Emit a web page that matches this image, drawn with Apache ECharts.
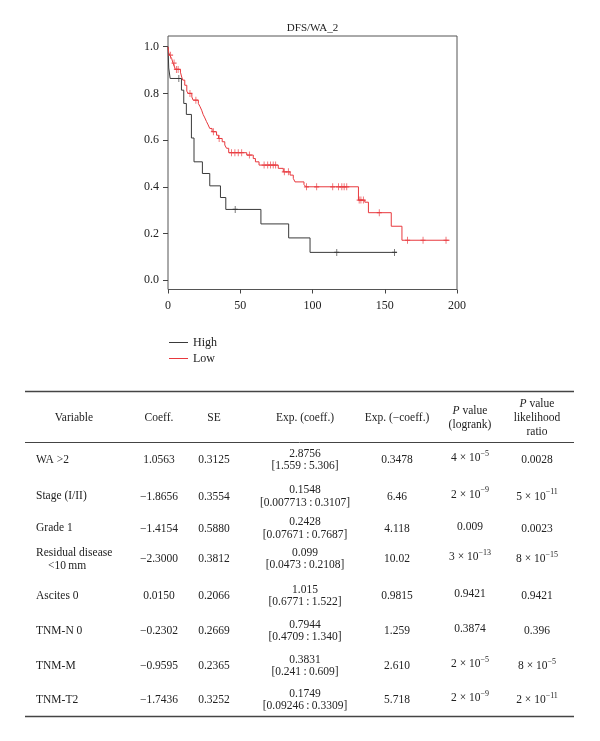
<!DOCTYPE html>
<html><head><meta charset="utf-8">
<script src="https://cdn.jsdelivr.net/npm/echarts@6/dist/echarts.min.js"></script>
<style>html,body{margin:0;padding:0;background:#fff}#c{width:600px;height:741px}</style>
</head><body><div id="c"></div>
<script>
// ---------------- data ----------------
const chartTitle = 'DFS/WA_2';
const seriesNames = ['High', 'Low'];
const xTickStep = 50;
const yTickValues = [0, 0.2, 0.4, 0.6, 0.8, 1.0];

// Kaplan-Meier steps: time of change and survival from that time on
const highTimes = [0, 0.5, 1.5, 9.3, 10.9, 12.7, 16.2, 18.0, 23.8, 28.9, 36.3, 40.0, 64.3, 83.5, 98.3, 158.4];
const highSurv  = [1.0, 0.909, 0.864, 0.814, 0.757, 0.710, 0.609, 0.507, 0.457, 0.404, 0.354, 0.303, 0.241, 0.181, 0.119, 0.119];
const highCensor = [7.5, 46.5, 116.8, 156.8];

const lowTimes = [0, 0.5, 1.2, 2.5, 3.5, 4.5, 5.0, 8.6, 9.5, 10.2, 11.6, 13.0, 13.9, 16.5, 17.4, 21.0, 22.2, 23.3, 24.3, 25.5, 26.6, 27.8, 28.9, 30.5, 33.6, 35.0, 37.5, 39.3, 40.5, 42.0, 54.5, 59.0, 60.5, 63.0, 76.3, 79.8, 84.5, 86.7, 87.9, 94.1, 95.4, 131.8, 136.2, 138.7, 154.5, 161.9, 194.8];
const lowSurv  = [1.0, 0.975, 0.964, 0.95, 0.93, 0.914, 0.903, 0.891, 0.870, 0.857, 0.835, 0.81, 0.80, 0.785, 0.771, 0.757, 0.743, 0.728, 0.71, 0.695, 0.68, 0.665, 0.65, 0.636, 0.621, 0.607, 0.593, 0.579, 0.565, 0.546, 0.536, 0.521, 0.507, 0.493, 0.479, 0.464, 0.45, 0.436, 0.421, 0.41, 0.40, 0.343, 0.334, 0.289, 0.231, 0.171, 0.171];
const lowCensor = [1.8, 4.2, 5.8, 7.0, 15.2, 19.3, 31.4, 35.4, 44.0, 46.3, 48.6, 51.0, 56.3, 66.5, 69.0, 71.0, 72.8, 74.5, 80.5, 83.3, 95.8, 102.9, 114.0, 118.0, 120.3, 121.9, 123.7, 132.3, 133.5, 135.2, 146.2, 165.8, 176.5, 192.4];

// table
const tableHeaders = ['Variable', 'Coeff.', 'SE', 'Exp. (coeff.)', 'Exp. (−coeff.)', '{i|P} value\n(logrank)', '{i|P} value\nlikelihood\nratio'];
const variables = ['WA >2', 'Stage (I/II)', 'Grade 1', 'Residual disease\n<10\u2009mm', 'Ascites 0', 'TNM-N 0', 'TNM-M', 'TNM-T2'];
const coeffs = ['1.0563', '−1.8656', '−1.4154', '−2.3000', '0.0150', '−0.2302', '−0.9595', '−1.7436'];
const ses = ['0.3125', '0.3554', '0.5880', '0.3812', '0.2066', '0.2669', '0.2365', '0.3252'];
const expCoeffs = ['2.8756', '0.1548', '0.2428', '0.099', '1.015', '0.7944', '0.3831', '0.1749'];
const expCIs = ['[1.559\u2009:\u20095.306]', '[0.007713\u2009:\u20090.3107]', '[0.07671\u2009:\u20090.7687]', '[0.0473\u2009:\u20090.2108]', '[0.6771\u2009:\u20091.522]', '[0.4709\u2009:\u20091.340]', '[0.241\u2009:\u20090.609]', '[0.09246\u2009:\u20090.3309]'];
const expNegCoeffs = ['0.3478', '6.46', '4.118', '10.02', '0.9815', '1.259', '2.610', '5.718'];
const pLogrank = ['4 × 10^−5', '2 × 10^−9', '0.009', '3 × 10^−13', '0.9421', '0.3874', '2 × 10^−5', '2 × 10^−9'];
const pLikelihood = ['0.0028', '5 × 10^−11', '0.0023', '8 × 10^−15', '0.9421', '0.396', '8 × 10^−5', '2 × 10^−11'];

// ---------------- layout / style ----------------
const FONT = '"Liberation Serif", "DejaVu Serif", serif';
const FS = 11.5;
const TXT = '#222';
const HIGH_COLOR = '#3a3a3a';
const LOW_COLOR = '#e8383d';
const colX = { varLeft: 36, varIndent: 48, varHeader: 74, coeff: 159, se: 214, exp: 305, expNeg: 397, pLog: 470, pLr: 537 };
const headerY = 418;
const rowY = [460, 496.5, 528.5, 559, 596, 631, 666, 700];
const rules = [{ y: 391.5, w: 1.5 }, { y: 442.5, w: 1 }, { y: 716.5, w: 1.5 }];
const ruleX1 = 25, ruleX2 = 574;

function survAt(times, surv, t) {
  let v = surv[0];
  for (let i = 0; i < times.length; i++) { if (times[i] <= t) v = surv[i]; }
  return v;
}

const rich = {
  n: { fontFamily: FONT, fontSize: FS, color: TXT, lineHeight: 14 },
  i: { fontFamily: FONT, fontSize: FS, color: TXT, fontStyle: 'italic', lineHeight: 14 },
  s: { fontFamily: FONT, fontSize: 8, color: TXT, lineHeight: 8, padding: [0, 0, 9, 0] }
};
function toRich(str) {
  if (str.indexOf('^') >= 0) {
    const p = str.split('^');
    return '{n|' + p[0] + '}{s|' + p[1] + '}';
  }
  return '{n|' + str + '}';
}
function textEl(x, y, text, align) {
  return {
    type: 'text', silent: true,
    style: {
      x: x, y: y, text: text, rich: rich,
      font: FS + 'px ' + FONT, fontFamily: FONT, fontSize: FS, fill: TXT,
      align: align, textAlign: align, verticalAlign: 'middle', textVerticalAlign: 'middle'
    }
  };
}

const graphics = [];
// title
graphics.push({ type: 'text', silent: true, style: { x: 312.5, y: 28, text: chartTitle, font: '11px ' + FONT, fontFamily: FONT, fontSize: 11, fill: TXT, align: 'center', textAlign: 'center', verticalAlign: 'middle', textVerticalAlign: 'middle' } });

// table rules
rules.forEach(r => graphics.push({ type: 'line', silent: true, shape: { x1: ruleX1, y1: r.y, x2: ruleX2, y2: r.y }, style: { stroke: '#444', lineWidth: r.w } }));

// headers
const headerCols = [colX.varHeader, colX.coeff, colX.se, colX.exp, colX.expNeg, colX.pLog, colX.pLr];
tableHeaders.forEach((h, k) => {
  const lines = h.split('\n');
  const lh = 14;
  lines.forEach((ln, j) => {
    const y = headerY + (j - (lines.length - 1) / 2) * lh;
    const txt = ln.indexOf('{i|') === 0 ? ln.replace(/^\{i\|P\}(.*)$/, '{i|P}{n|$1}') : '{n|' + ln + '}';
    graphics.push(textEl(headerCols[k], y, txt, 'center'));
  });
});

// rows
variables.forEach((v, r) => {
  const y = rowY[r];
  const vl = v.split('\n');
  if (vl.length === 1) {
    graphics.push(textEl(colX.varLeft, y - 0.5, toRich(vl[0]), 'left'));
  } else {
    graphics.push(textEl(colX.varLeft, y - 6, toRich(vl[0]), 'left'));
    graphics.push(textEl(colX.varIndent, y + 6.5, toRich(vl[1]), 'left'));
  }
  graphics.push(textEl(colX.coeff, y, toRich(coeffs[r]), 'center'));
  graphics.push(textEl(colX.se, y, toRich(ses[r]), 'center'));
  graphics.push(textEl(colX.exp, y - 6.5, toRich(expCoeffs[r]), 'center'));
  graphics.push(textEl(colX.exp, y + 6, toRich(expCIs[r]), 'center'));
  graphics.push(textEl(colX.expNeg, y, toRich(expNegCoeffs[r]), 'center'));
  graphics.push(textEl(colX.pLog, y - 2, toRich(pLogrank[r]), 'center'));
  graphics.push(textEl(colX.pLr, y, toRich(pLikelihood[r]), 'center'));
});

const chart = echarts.init(document.getElementById('c'), null, { renderer: 'canvas' });
chart.setOption({
  backgroundColor: '#fff',
  animation: false,
  textStyle: { fontFamily: FONT },
  grid: { left: 168, right: 143, top: 36, bottom: 451.5, show: true, borderColor: '#555', borderWidth: 1, backgroundColor: 'transparent' },
  legend: {
    data: seriesNames.map(n => ({ name: n, icon: 'rect' })),
    orient: 'vertical', left: 169, top: 336, padding: 0,
    itemWidth: 19, itemHeight: 1, itemGap: 3,
    textStyle: { fontFamily: FONT, fontSize: 12, color: TXT, lineHeight: 13 },
    selectedMode: false
  },
  xAxis: {
    type: 'value', min: 0, max: 200, interval: xTickStep,
    axisLine: { show: false, onZero: false },
    axisTick: { show: true, length: 4, lineStyle: { color: '#444' } },
    axisLabel: { fontFamily: FONT, fontSize: 12, color: TXT, margin: 10 },
    splitLine: { show: false }
  },
  yAxis: {
    type: 'value', min: -0.04, max: 1.046,
    axisLine: { show: false, onZero: false },
    axisTick: { show: true, length: 5, lineStyle: { color: '#444' }, customValues: yTickValues },
    axisLabel: { fontFamily: FONT, fontSize: 12, color: TXT, margin: 9, customValues: yTickValues, formatter: v => Number(v).toFixed(1) },
    splitLine: { show: false }
  },
  series: [
    { name: seriesNames[0], type: 'line', step: 'end', symbol: 'none', color: HIGH_COLOR, lineStyle: { color: HIGH_COLOR, width: 1 },
      data: highTimes.map((t, i) => [t, highSurv[i]]), z: 3 },
    { name: seriesNames[1], type: 'line', step: 'end', symbol: 'none', color: LOW_COLOR, lineStyle: { color: LOW_COLOR, width: 1 },
      data: lowTimes.map((t, i) => [t, lowSurv[i]]), z: 3 },
    { name: seriesNames[0] + ' censored', type: 'scatter', symbol: 'path://M3,0L3,8M0,4L6,4', symbolSize: [5, 7],
      itemStyle: { color: 'none', borderColor: HIGH_COLOR, borderWidth: 1 },
      data: highCensor.map(t => [t, survAt(highTimes, highSurv, t)]), z: 4 },
    { name: seriesNames[1] + ' censored', type: 'scatter', symbol: 'path://M3,0L3,8M0,4L6,4', symbolSize: [5, 7],
      itemStyle: { color: 'none', borderColor: LOW_COLOR, borderWidth: 1 },
      data: lowCensor.map(t => [t, survAt(lowTimes, lowSurv, t)]), z: 4 }
  ],
  graphic: { elements: graphics }
});
</script>
</body></html>
